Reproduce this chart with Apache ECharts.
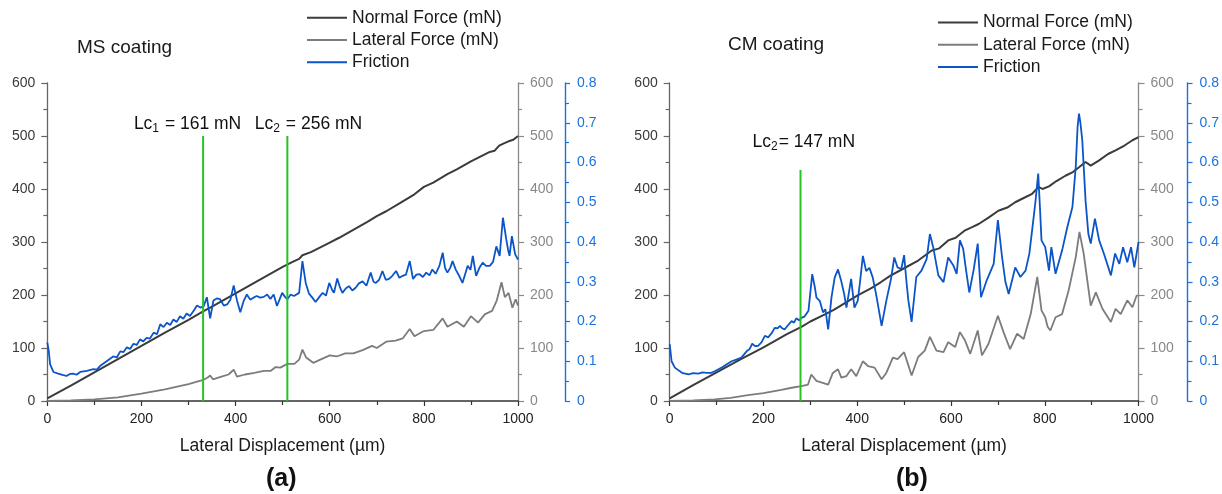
<!DOCTYPE html>
<html><head><meta charset="utf-8">
<script src="https://cdn.jsdelivr.net/npm/echarts/dist/echarts.min.js"></script>
<style>html,body{margin:0;padding:0;background:#fff}#c{width:1222px;height:494px}</style>
</head><body><div id="c"></div>
<script>
// ---------- data ----------
const seriesNames = ['Normal Force (mN)', 'Lateral Force (mN)', 'Friction'];
const panelTitles = ['MS coating', 'CM coating'];
const panelTags = ['(a)', '(b)'];

// (a) MS coating  [displacement µm, value]
const msNormal = [[0,5],[50,29],[100,54],[150,79],[200,104],[250,129],[300,153],[331,169],[350,178],[400,203],[450,228],[500,253],[520,262],[535,268],[542,275],[560,281],[600,299],[620,308],[650,323],[680,338],[700,349],[720,358],[750,374],[780,390],[800,404],[820,412],[850,428],[870,437],[900,452],[920,461],[940,470],[950,472],[960,482],[970,486],[980,490],[990,493],[1000,500]];
const msLateral = [[0,0],[50,1],[100,3],[150,7],[200,14],[250,22],[300,32],[320,37],[332,40],[340,44],[346,48],[352,41],[370,46],[385,50],[396,59],[403,46],[420,50],[440,53],[460,57],[475,57],[485,64],[495,63],[510,70],[525,70],[535,78],[542,97],[550,82],[565,72],[580,78],[600,86],[615,84],[633,90],[650,90],[670,96],[690,104],[700,100],[720,112],[740,114],[755,118],[770,136],[780,122],[800,132],[820,134],[840,156],[850,140],[870,150],[885,140],[900,160],[915,148],[930,164],[945,170],[955,190],[965,224],[972,196],[980,204],[988,176],[995,192],[1000,180]];
const msFriction = [[0,0.147],[3,0.127],[6,0.092],[13,0.073],[23,0.069],[34,0.065],[41,0.063],[48,0.068],[55,0.069],[62,0.066],[70,0.073],[84,0.076],[98,0.080],[105,0.079],[112,0.088],[126,0.100],[140,0.112],[148,0.110],[155,0.125],[162,0.123],[169,0.135],[176,0.131],[183,0.144],[190,0.141],[197,0.155],[204,0.150],[211,0.159],[218,0.157],[226,0.172],[233,0.168],[240,0.193],[247,0.186],[254,0.197],[261,0.191],[268,0.205],[275,0.199],[282,0.213],[289,0.207],[296,0.220],[303,0.214],[311,0.227],[318,0.240],[325,0.235],[332,0.238],[339,0.261],[346,0.208],[353,0.253],[360,0.258],[367,0.256],[375,0.240],[382,0.243],[389,0.255],[396,0.291],[403,0.253],[410,0.223],[417,0.251],[424,0.268],[431,0.255],[438,0.260],[445,0.264],[452,0.260],[460,0.262],[467,0.268],[474,0.257],[481,0.268],[488,0.239],[499,0.272],[505,0.262],[510,0.256],[517,0.268],[524,0.264],[535,0.272],[542,0.352],[549,0.297],[556,0.270],[563,0.260],[570,0.249],[578,0.262],[585,0.272],[592,0.265],[599,0.297],[605,0.280],[609,0.272],[616,0.308],[622,0.285],[627,0.272],[634,0.283],[641,0.289],[648,0.278],[655,0.285],[662,0.296],[670,0.301],[678,0.290],[687,0.323],[693,0.300],[698,0.297],[705,0.305],[712,0.327],[719,0.305],[726,0.307],[733,0.315],[741,0.327],[748,0.310],[755,0.315],[762,0.318],[770,0.352],[777,0.307],[784,0.318],[791,0.319],[798,0.312],[805,0.323],[812,0.316],[818,0.331],[825,0.320],[833,0.340],[840,0.373],[845,0.335],[850,0.323],[856,0.335],[861,0.352],[868,0.330],[875,0.315],[882,0.297],[888,0.320],[893,0.340],[899,0.330],[904,0.365],[911,0.315],[918,0.335],[925,0.348],[932,0.340],[940,0.340],[947,0.350],[954,0.389],[961,0.365],[968,0.461],[975,0.407],[979,0.380],[982,0.365],[987,0.415],[994,0.369],[1000,0.356]];
const msCritX = [331, 510];          // green critical-load lines (µm)
const msCritTop = [500, 500];        // top of green lines (mN axis)
const msCritLabels = ['1 = 161 mN', '2 = 256 mN'];
const msCritLabelPos = [[298, 523], [555, 523]];

// (b) CM coating
const cmNormal = [[0,5],[50,30],[100,54],[150,78],[200,101],[250,126],[281,140],[300,150],[330,163],[350,172],[400,199],[430,213],[450,224],[470,236],[499,250],[530,265],[559,284],[575,288],[594,303],[610,308],[630,322],[645,328],[659,334],[680,346],[701,359],[720,365],[737,375],[755,383],[773,391],[787,404],[795,400],[809,405],[825,415],[844,425],[860,432],[873,441],[887,451],[898,444],[916,454],[935,466],[951,473],[970,482],[987,492],[1000,498]];
const cmLateral = [[0,0],[50,1],[96,3],[130,6],[167,11],[200,15],[238,21],[260,25],[281,28],[295,31],[302,50],[313,38],[323,35],[338,31],[348,53],[359,60],[366,44],[377,47],[387,60],[398,47],[412,75],[423,66],[437,63],[452,41],[462,53],[476,82],[486,79],[500,92],[508,70],[516,48],[530,83],[544,95],[555,121],[569,95],[584,92],[594,111],[609,102],[619,130],[630,114],[641,89],[657,133],[666,86],[680,108],[700,161],[712,130],[726,98],[741,127],[755,117],[770,164],[784,234],[793,171],[801,158],[806,140],[812,133],[823,158],[837,164],[851,209],[866,271],[874,319],[883,278],[898,180],[909,205],[923,174],[941,149],[951,174],[962,164],[976,190],[987,177],[996,199],[1000,199]];
const cmFriction = [[0,0.143],[4,0.100],[11,0.084],[26,0.071],[40,0.067],[50,0.070],[61,0.069],[70,0.072],[79,0.071],[89,0.071],[96,0.075],[104,0.080],[112,0.085],[121,0.092],[132,0.100],[142,0.104],[153,0.109],[164,0.125],[170,0.130],[176,0.144],[182,0.138],[189,0.139],[196,0.148],[203,0.164],[210,0.160],[217,0.170],[224,0.184],[230,0.183],[235,0.189],[240,0.183],[245,0.180],[252,0.190],[260,0.201],[265,0.197],[270,0.208],[276,0.203],[281,0.209],[288,0.213],[296,0.227],[304,0.319],[309,0.290],[313,0.260],[320,0.252],[327,0.223],[332,0.231],[338,0.180],[345,0.260],[352,0.311],[359,0.331],[366,0.301],[372,0.270],[377,0.235],[387,0.307],[394,0.235],[401,0.252],[406,0.300],[412,0.365],[419,0.327],[426,0.335],[433,0.311],[440,0.270],[444,0.243],[452,0.189],[462,0.252],[472,0.307],[479,0.361],[486,0.336],[494,0.332],[500,0.367],[505,0.300],[509,0.253],[516,0.199],[526,0.312],[537,0.328],[548,0.357],[555,0.420],[562,0.387],[573,0.316],[584,0.299],[594,0.361],[605,0.341],[612,0.320],[619,0.404],[626,0.383],[632,0.330],[639,0.273],[648,0.328],[657,0.396],[664,0.261],[676,0.303],[691,0.345],[700,0.455],[709,0.361],[716,0.300],[723,0.269],[737,0.336],[748,0.312],[759,0.328],[767,0.370],[773,0.429],[780,0.500],[786,0.572],[790,0.480],[793,0.404],[801,0.387],[809,0.328],[814,0.387],[823,0.320],[837,0.379],[848,0.437],[859,0.488],[866,0.588],[870,0.690],[873,0.723],[876,0.700],[880,0.656],[887,0.504],[893,0.420],[898,0.396],[907,0.459],[916,0.404],[926,0.371],[941,0.316],[950,0.371],[959,0.345],[967,0.387],[976,0.349],[984,0.387],[991,0.336],[1000,0.400]];
const cmCritX = [279];
const cmCritTop = [436];
const cmCritLabels = ['2= 147 mN'];
const cmCritLabelPos = [[286, 489]];

// ---------- styling ----------
const FONT = '"Liberation Sans", Arial, Helvetica, sans-serif';
const C_NORMAL = '#3b3b3b', C_LAT = '#7c7c7c', C_FRIC = '#0b55c8', C_FRIC_AX = '#1a72df', C_GREEN = '#25c425';
const C_LEFTAX = '#666', C_GRAYAX = '#8a8a8a';

const panels = [
  { left: 47.3, width: 470.7, normal: msNormal, lateral: msLateral, friction: msFriction,
    critX: msCritX, critTop: msCritTop, critLabels: msCritLabels, critPos: msCritLabelPos, blueOffset: 47 },
  { left: 669.7, width: 470.3, normal: cmNormal, lateral: cmLateral, friction: cmFriction,
    critX: cmCritX, critTop: cmCritTop, critLabels: cmCritLabels, critPos: cmCritLabelPos, blueOffset: 49 }
];

const grid = [], xAxis = [], yAxis = [], series = [];
panels.forEach((p, i) => {
  grid.push({ left: p.left, top: 83, width: p.width, height: 318 });
  xAxis.push({
    gridIndex: i, type: 'value', min: 0, max: 1000, interval: 200,
    name: 'Lateral Displacement (µm)', nameLocation: 'middle', nameGap: 36,
    nameTextStyle: { fontSize: 17.5, color: '#1a1a1a', fontFamily: FONT },
    axisLine: { show: true, onZero: false, lineStyle: { color: '#333', width: 1.6 } },
    axisTick: { show: true, length: 5, lineStyle: { color: '#333', width: 1.2 } },
    minorTick: { show: true, splitNumber: 2, length: 4, lineStyle: { color: '#333', width: 1.2 } },
    axisLabel: { fontSize: 14, color: '#222', margin: 11, fontFamily: FONT, formatter: v => String(v) },
    splitLine: { show: false }
  });
  const yBase = {
    gridIndex: i, type: 'value', min: 0, max: 600, interval: 100,
    splitLine: { show: false }
  };
  yAxis.push(Object.assign({}, yBase, {
    position: 'left',
    axisLine: { show: true, onZero: false, lineStyle: { color: C_LEFTAX, width: 1.3 } },
    axisTick: { show: true, length: 6, lineStyle: { color: C_LEFTAX, width: 1.2 } },
    minorTick: { show: true, splitNumber: 2, length: 4, lineStyle: { color: C_LEFTAX, width: 1.2 } },
    axisLabel: { fontSize: 14, color: '#3a3a3a', margin: 12, fontFamily: FONT }
  }));
  yAxis.push(Object.assign({}, yBase, {
    position: 'right',
    axisLine: { show: true, onZero: false, lineStyle: { color: C_GRAYAX, width: 1.3 } },
    axisTick: { show: true, length: 6, lineStyle: { color: C_GRAYAX, width: 1.2 } },
    minorTick: { show: true, splitNumber: 2, length: 4, lineStyle: { color: C_GRAYAX, width: 1.2 } },
    axisLabel: { fontSize: 14, color: '#888', margin: 12, fontFamily: FONT }
  }));
  yAxis.push({
    gridIndex: i, type: 'value', min: 0, max: 0.8, interval: 0.1, position: 'right', offset: p.blueOffset,
    splitLine: { show: false },
    axisLine: { show: true, onZero: false, lineStyle: { color: C_FRIC_AX, width: 1.4 } },
    axisTick: { show: true, length: 5, lineStyle: { color: C_FRIC_AX, width: 1.2 } },
    minorTick: { show: true, splitNumber: 2, length: 4, lineStyle: { color: C_FRIC_AX, width: 1.2 } },
    axisLabel: { fontSize: 14, color: C_FRIC_AX, margin: 12, fontFamily: FONT }
  });
  const common = { type: 'line', xAxisIndex: i, showSymbol: false, symbol: 'none', animation: false };
  series.push(Object.assign({}, common, { name: seriesNames[0], yAxisIndex: 3 * i, data: p.normal,
    lineStyle: { color: C_NORMAL, width: 2 }, itemStyle: { color: C_NORMAL } }));
  series.push(Object.assign({}, common, { name: seriesNames[1], yAxisIndex: 3 * i + 1, data: p.lateral,
    lineStyle: { color: C_LAT, width: 1.8 }, itemStyle: { color: C_LAT } }));
  series.push(Object.assign({}, common, { name: seriesNames[2], yAxisIndex: 3 * i + 2, data: p.friction,
    lineStyle: { color: C_FRIC, width: 1.8 }, itemStyle: { color: C_FRIC } }));
  p.critX.forEach((cx, k) => {
    series.push(Object.assign({}, common, {
      name: 'Lc' + i + k, yAxisIndex: 3 * i, z: 5,
      data: [[cx, 0], [cx, p.critTop[k]]],
      lineStyle: { color: C_GREEN, width: 2 }, itemStyle: { color: C_GREEN },
      markPoint: {
        symbol: 'circle', symbolSize: 1, itemStyle: { color: 'rgba(0,0,0,0)' }, animation: false,
        data: [{ coord: p.critPos[k] }],
        label: {
          show: true, position: 'inside',
          formatter: () => '{n|Lc}{s|' + p.critLabels[k].charAt(0) + '}{n|' + p.critLabels[k].slice(1) + '}',
          rich: {
            n: { fontSize: 17.5, color: '#111', fontFamily: FONT, lineHeight: 22 },
            s: { fontSize: 12, color: '#111', fontFamily: FONT, lineHeight: 12, padding: [11, 1, 0, 0], verticalAlign: 'bottom' }
          }
        }
      }
    }));
  });
});

const legendBase = {
  orient: 'vertical', icon: 'rect', itemWidth: 40, itemHeight: 2, itemGap: 4.2, selectedMode: false,
  padding: 0,
  textStyle: { fontSize: 17.5, color: '#1a1a1a', fontFamily: FONT, lineHeight: 18 },
  data: seriesNames
};

const titleStyle = { fontSize: 19, fontWeight: 'normal', color: '#1a1a1a', fontFamily: FONT, lineHeight: 22 };
const tagStyle = { fontSize: 25, fontWeight: 'bold', color: '#111', fontFamily: FONT, lineHeight: 28 };

const option = {
  backgroundColor: '#fff',
  animation: false,
  textStyle: { fontFamily: FONT },
  title: [
    { text: panelTitles[0], left: 77, top: 37, padding: 0, textStyle: titleStyle },
    { text: panelTitles[1], left: 728, top: 34, padding: 0, textStyle: titleStyle },
    { text: panelTags[0], left: 266, top: 465, padding: 0, textStyle: tagStyle },
    { text: panelTags[1], left: 896, top: 465, padding: 0, textStyle: tagStyle }
  ],
  legend: [
    Object.assign({}, legendBase, { left: 307, top: 8.8 }),
    Object.assign({}, legendBase, { left: 938, top: 13.5 })
  ],
  grid, xAxis, yAxis, series
};

const chart = echarts.init(document.getElementById('c'), null, { renderer: 'canvas' });
chart.setOption(option);
</script>
</body></html>
